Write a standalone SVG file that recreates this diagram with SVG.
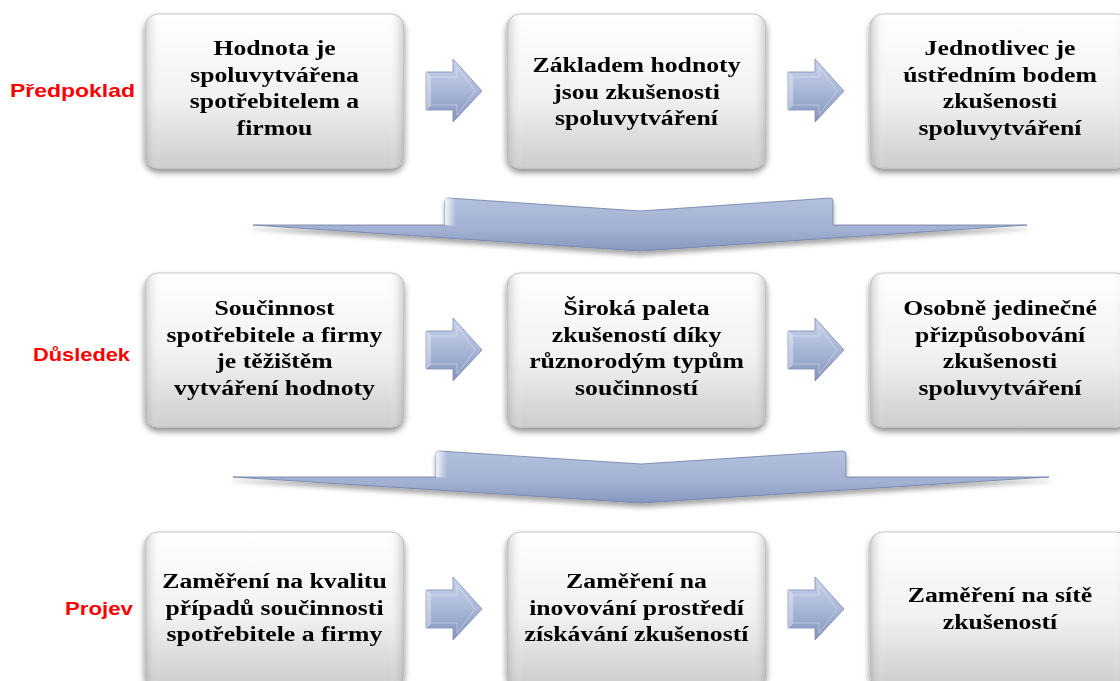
<svg xmlns="http://www.w3.org/2000/svg" width="1120" height="681" viewBox="0 0 1120 681">
  <defs>
    <linearGradient id="boxFill" x1="0" y1="0" x2="0" y2="1">
      <stop offset="0" stop-color="#ffffff"/>
      <stop offset="0.55" stop-color="#f1f1f1"/>
      <stop offset="1" stop-color="#cdcdcd"/>
    </linearGradient>
    <linearGradient id="boxEdge" x1="0" y1="0" x2="1" y2="0">
      <stop offset="0" stop-color="#9a9a9a" stop-opacity="0.45"/>
      <stop offset="0.06" stop-color="#ffffff" stop-opacity="0"/>
      <stop offset="0.94" stop-color="#ffffff" stop-opacity="0"/>
      <stop offset="1" stop-color="#9a9a9a" stop-opacity="0.45"/>
    </linearGradient>
    <linearGradient id="arrowFill" x1="0" y1="0" x2="0" y2="1">
      <stop offset="0" stop-color="#c9d4ea"/>
      <stop offset="0.5" stop-color="#a9b8d8"/>
      <stop offset="1" stop-color="#8393bb"/>
    </linearGradient>
    <linearGradient id="bigFill" x1="0" y1="0" x2="0" y2="1">
      <stop offset="0" stop-color="#b3c1df"/>
      <stop offset="0.6" stop-color="#a2b1d2"/>
      <stop offset="1" stop-color="#8797c0"/>
    </linearGradient>
    <linearGradient id="bevelL" x1="0" y1="0" x2="1" y2="0">
      <stop offset="0" stop-color="#ffffff" stop-opacity="0.85"/>
      <stop offset="1" stop-color="#ffffff" stop-opacity="0"/>
    </linearGradient>
    <filter id="shadow" x="-10%" y="-10%" width="120%" height="130%">
      <feGaussianBlur in="SourceAlpha" stdDeviation="3"/>
      <feOffset dx="0" dy="4" result="b"/>
      <feComponentTransfer><feFuncA type="linear" slope="0.45"/></feComponentTransfer>
      <feMerge><feMergeNode/><feMergeNode in="SourceGraphic"/></feMerge>
    </filter>
    <filter id="softShadow" x="-10%" y="-30%" width="120%" height="180%">
      <feGaussianBlur in="SourceAlpha" stdDeviation="2.5"/>
      <feOffset dx="0" dy="4"/>
      <feComponentTransfer><feFuncA type="linear" slope="0.35"/></feComponentTransfer>
      <feMerge><feMergeNode/><feMergeNode in="SourceGraphic"/></feMerge>
    </filter>
    <!-- small right-pointing block arrow -->
    <g id="smallArrow">
      <path d="M0,13 H27 V0 L56,32 L27,63 V51 H0 Z" fill="url(#arrowFill)" stroke="#7d8cb2" stroke-width="0.8"/>
      <path d="M0,13 L5,18 H31 V8 L49,32 L31,56 V46 H5 L0,51" fill="none" stroke="#ffffff" stroke-opacity="0.35" stroke-width="1"/>
      <path d="M0,13 L5,18 V46 L0,51 Z" fill="#ffffff" fill-opacity="0.35"/>
    </g>
    <rect id="box" x="0" y="0" width="259" height="154" rx="13" ry="13"/>
  </defs>
  <style>
    .box { fill: url(#boxFill); stroke: #c4c4c4; stroke-width: 1; }
    .edge { fill: url(#boxEdge); }
    .t { font-family: "Liberation Serif", "Times New Roman", serif; font-weight: bold; font-size: 22px; fill: #000; text-anchor: middle; }
    .lbl { font-family: "Liberation Sans", Arial, sans-serif; font-weight: bold; font-size: 19px; fill: #ff0000; }
    .big { fill: url(#bigFill); stroke: #6f7fa6; stroke-width: 0.8; }
  </style>

  <rect width="1120" height="681" fill="#ffffff"/>

  <!-- row labels -->
  <g id="labels">
    <text class="lbl" x="10" y="97" textLength="125" lengthAdjust="spacingAndGlyphs">Předpoklad</text>
    <text class="lbl" x="33" y="361" textLength="97" lengthAdjust="spacingAndGlyphs">Důsledek</text>
    <text class="lbl" x="65" y="615" textLength="68" lengthAdjust="spacingAndGlyphs">Projev</text>
  </g>

  <!-- connectors -->
  <g id="connectors">
    <use href="#smallArrow" x="426" y="59"/>
    <use href="#smallArrow" x="788" y="59"/>
    <use href="#smallArrow" x="426" y="318"/>
    <use href="#smallArrow" x="788" y="318"/>
    <use href="#smallArrow" x="426" y="577"/>
    <use href="#smallArrow" x="788" y="577"/>

    <g id="bigArrow1" filter="url(#softShadow)">
      <path class="big" d="M253,225 H445 V201 Q445,198 448,198 L640,211 L830,198 Q833,198 833,201 V225 H1027 L640,251 Z"/>
      <path d="M445,201 Q445,198 448,198 L456,199 V226 L445,225 Z" fill="url(#bevelL)"/>
    </g>
    <g id="bigArrow2" filter="url(#softShadow)">
      <path class="big" d="M233,477 H436 V454 Q436,451 439,451 L641,464 L843,451 Q846,451 846,454 V477 H1049 L641,503 Z"/>
      <path d="M436,454 Q436,451 439,451 L447,452 V478 L436,477 Z" fill="url(#bevelL)"/>
    </g>
  </g>

  <!-- row 1 -->
  <g id="n1" filter="url(#shadow)">
    <use href="#box" x="145" y="14" class="box"/>
    <use href="#box" x="145" y="14" class="edge"/>
    <text class="t" transform="translate(274.5 0) scale(1.17 1)"><tspan x="0" y="55">Hodnota je</tspan><tspan x="0" y="82">spoluvytvářena</tspan><tspan x="0" y="108">spotřebitelem a</tspan><tspan x="0" y="135">firmou</tspan></text>
  </g>
  <g id="n2" filter="url(#shadow)">
    <use href="#box" x="507" y="14" class="box"/>
    <use href="#box" x="507" y="14" class="edge"/>
    <text class="t" transform="translate(636.5 0) scale(1.17 1)"><tspan x="0" y="72">Základem hodnoty</tspan><tspan x="0" y="99">jsou zkušenosti</tspan><tspan x="0" y="125">spoluvytváření</tspan></text>
  </g>
  <g id="n3" filter="url(#shadow)">
    <use href="#box" x="870" y="14" class="box"/>
    <use href="#box" x="870" y="14" class="edge"/>
    <text class="t" transform="translate(1000 0) scale(1.17 1)"><tspan x="0" y="55">Jednotlivec je</tspan><tspan x="0" y="82">ústředním bodem</tspan><tspan x="0" y="108">zkušenosti</tspan><tspan x="0" y="135">spoluvytváření</tspan></text>
  </g>

  <!-- row 2 -->
  <g id="n4" filter="url(#shadow)">
    <use href="#box" x="145" y="273" class="box"/>
    <use href="#box" x="145" y="273" class="edge"/>
    <text class="t" transform="translate(274.5 0) scale(1.17 1)"><tspan x="0" y="315">Součinnost</tspan><tspan x="0" y="342">spotřebitele a firmy</tspan><tspan x="0" y="368">je těžištěm</tspan><tspan x="0" y="395">vytváření hodnoty</tspan></text>
  </g>
  <g id="n5" filter="url(#shadow)">
    <use href="#box" x="507" y="273" class="box"/>
    <use href="#box" x="507" y="273" class="edge"/>
    <text class="t" transform="translate(636.5 0) scale(1.17 1)"><tspan x="0" y="315">Široká paleta</tspan><tspan x="0" y="342">zkušeností díky</tspan><tspan x="0" y="368">různorodým typům</tspan><tspan x="0" y="395">součinností</tspan></text>
  </g>
  <g id="n6" filter="url(#shadow)">
    <use href="#box" x="870" y="273" class="box"/>
    <use href="#box" x="870" y="273" class="edge"/>
    <text class="t" transform="translate(1000 0) scale(1.17 1)"><tspan x="0" y="315">Osobně jedinečné</tspan><tspan x="0" y="342">přizpůsobování</tspan><tspan x="0" y="368">zkušenosti</tspan><tspan x="0" y="395">spoluvytváření</tspan></text>
  </g>

  <!-- row 3 -->
  <g id="n7" filter="url(#shadow)">
    <use href="#box" x="145" y="532" class="box"/>
    <use href="#box" x="145" y="532" class="edge"/>
    <text class="t" transform="translate(274.5 0) scale(1.17 1)"><tspan x="0" y="588">Zaměření na kvalitu</tspan><tspan x="0" y="615">případů součinnosti</tspan><tspan x="0" y="641">spotřebitele a firmy</tspan></text>
  </g>
  <g id="n8" filter="url(#shadow)">
    <use href="#box" x="507" y="532" class="box"/>
    <use href="#box" x="507" y="532" class="edge"/>
    <text class="t" transform="translate(636.5 0) scale(1.17 1)"><tspan x="0" y="588">Zaměření na</tspan><tspan x="0" y="615">inovování prostředí</tspan><tspan x="0" y="641">získávání zkušeností</tspan></text>
  </g>
  <g id="n9" filter="url(#shadow)">
    <use href="#box" x="870" y="532" class="box"/>
    <use href="#box" x="870" y="532" class="edge"/>
    <text class="t" transform="translate(1000 0) scale(1.17 1)"><tspan x="0" y="602">Zaměření na sítě</tspan><tspan x="0" y="629">zkušeností</tspan></text>
  </g>
</svg>
